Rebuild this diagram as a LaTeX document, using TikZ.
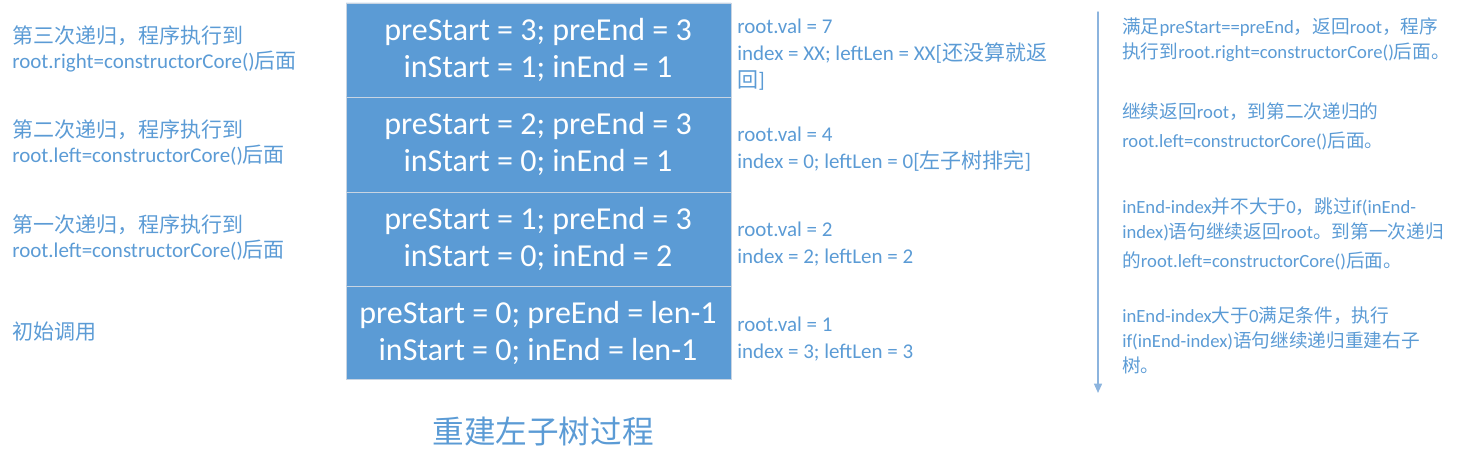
\documentclass[tikz,border=0pt]{standalone}
\usepackage{fontspec}
\setmainfont{Carlito}
\newfontfamily\cjk{Noto Sans CJK SC}
\usepackage{tkz-euclide}
\usetikzlibrary{arrows.meta}
\definecolor{stackblue}{HTML}{5B9BD5}
\definecolor{txtblue}{HTML}{5B9BD5}
\definecolor{rowline}{HTML}{C8D4E2}
\definecolor{flowblue}{HTML}{8CB4DE}
\newcommand{\zh}[1]{{\cjk #1}}

\begin{document}
\begin{tikzpicture}[x=.75pt,y=-.75pt,
		boxtext/.style={text=white,align=center,inner sep=0,font=\fontsize{24}{27.75}\selectfont},
		ltext/.style={text=txtblue,align=left,anchor=north west,inner sep=0,font=\fontsize{15.75}{19.1}\selectfont},
		mtext/.style={text=txtblue,align=left,anchor=north west,inner sep=0,font=\fontsize{15.75}{20.25}\selectfont},
		rtext/.style={text=txtblue,align=left,anchor=north west,inner sep=0,font=\fontsize{14}{18.75}\selectfont},
		flow/.style={draw=flowblue,line width=1.1pt,-{Triangle[length=7pt,width=6pt]}}]
		\tkzDefPoints{0/0/O,1460/463/Z}
		\path[use as bounding box] (O) rectangle (Z);
		% the stack
		\tkzDefPoints{346/3/S0L,731/3/S0R,346/97/S1L,731/97/S1R,346/192/S2L,731/192/S2R}
		\tkzDefPoints{346/286/S3L,731/286/S3R,346/379/S4L,731/379/S4R}
	\tkzFillPolygon[draw=rowline,fill=stackblue](S0L,S0R,S1R,S1L)
	\tkzFillPolygon[draw=rowline,fill=stackblue](S1L,S1R,S2R,S2L)
	\tkzFillPolygon[draw=rowline,fill=stackblue](S2L,S2R,S3R,S3L)
	\tkzFillPolygon[draw=rowline,fill=stackblue](S3L,S3R,S4R,S4L)
		\node[boxtext] (row3) at (538,50) {preStart = 3; preEnd = 3\\inStart = 1; inEnd = 1};
		\node[boxtext] (row2) at (538,144) {preStart = 2; preEnd = 3\\inStart = 0; inEnd = 1};
		\node[boxtext] (row1) at (538,239) {preStart = 1; preEnd = 3\\inStart = 0; inEnd = 2};
		\node[boxtext] (row0) at (538,333) {preStart = 0; preEnd = len-1\\inStart = 0; inEnd = len-1};
		% left side
		\node[ltext] (call3) at (12,25) {\zh{第三次递归，程序执行到}\\root.right=constructorCore()\zh{后面}};
		\node[ltext] (call2) at (12,119) {\zh{第二次递归，程序执行到}\\root.left=constructorCore()\zh{后面}};
		\node[ltext] (call1) at (12,214) {\zh{第一次递归，程序执行到}\\root.left=constructorCore()\zh{后面}};
		\node[ltext] (call0) at (12,322) {\zh{初始调用}};
		% values
		\node[mtext] (val3) at (737,19) {root.val = 7\\index = XX; leftLen = XX[\zh{还没算就返}\\\zh{回}]};
		\node[mtext] (val2) at (737,127) {root.val = 4\\index = 0; leftLen = 0[\zh{左子树排完}]};
		\node[mtext] (val1) at (737,222) {root.val = 2\\index = 2; leftLen = 2};
		\node[mtext] (val0) at (737,317) {root.val = 1\\index = 3; leftLen = 3};
		% return flow
		\tkzDefPoints{1098/12/T,1098/393/U}
		\tkzDrawSegment[flow](T,U)
		\node[rtext] (ret3) at (1122,17) {\zh{满足}preStart==preEnd\zh{，返回}root\zh{，程序}\\\zh{执行到}root.right=constructorCore()\zh{后面。}};
		\node[rtext] (ret2) at (1122,102) {\zh{继续返回}root\zh{，到第二次递归的}\\[3pt]root.left=constructorCore()\zh{后面。}};
		\node[rtext] (ret1) at (1122,197) {inEnd-index\zh{并不大于}0\zh{，跳过}if(inEnd-\\index)\zh{语句继续返回}root\zh{。到第一次递归}\\[3pt]\zh{的}root.left=constructorCore()\zh{后面。}};
		\node[rtext] (ret0) at (1122,307) {inEnd-index\zh{大于}0\zh{满足条件，执行}\\if(inEnd-index)\zh{语句继续递归重建右子}\\\zh{树。}};
		% caption
		\node[anchor=base,inner sep=0,text=txtblue,font=\fontsize{23.7}{28}\selectfont] (cap) at (543,443) {\zh{重建左子树过程}};
	\end{tikzpicture}
\end{document}
